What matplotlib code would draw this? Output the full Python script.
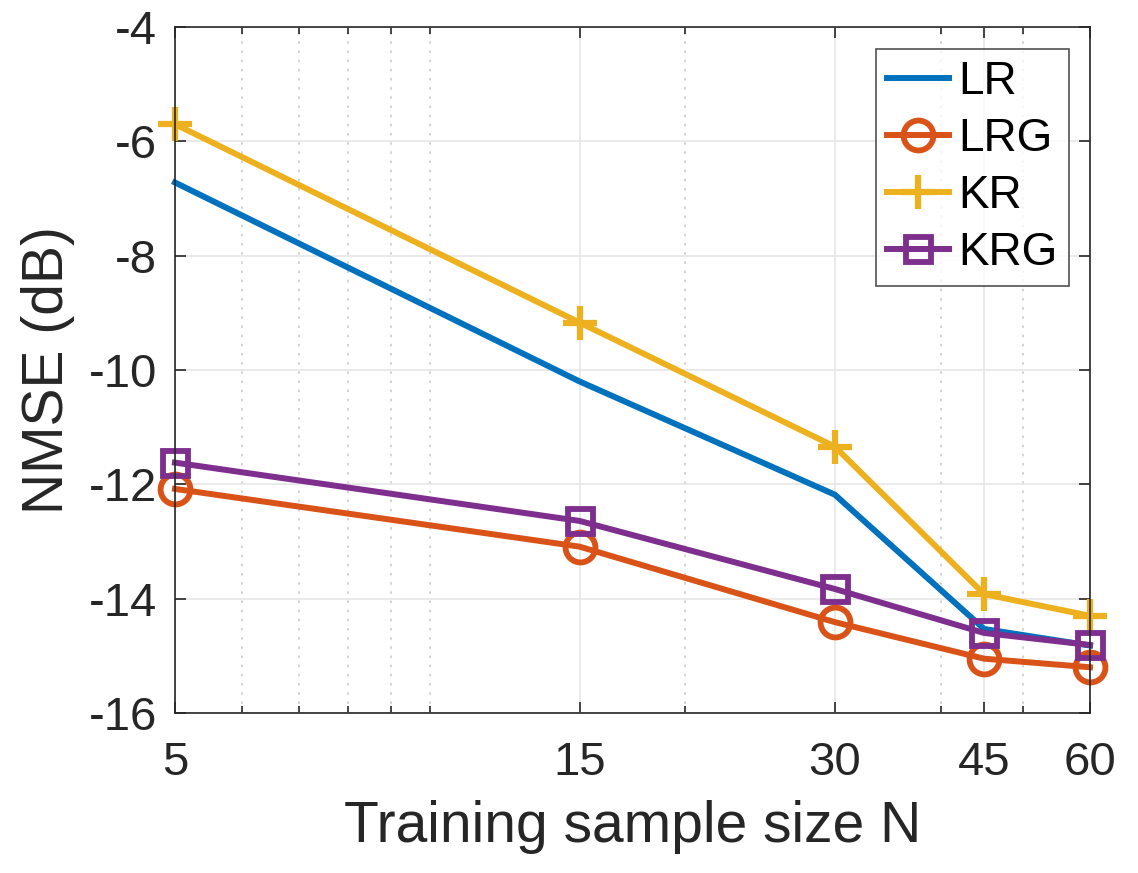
import numpy as np
import matplotlib
matplotlib.use("Agg")
import matplotlib.pyplot as plt
from matplotlib.ticker import FixedLocator, NullFormatter

# data
n_samples = [5, 15, 30, 45, 60]
lr = [-6.72, -10.20, -12.18, -14.53, -14.82]
lrg = [-12.08, -13.09, -14.41, -15.05, -15.20]
kr = [-5.70, -9.17, -11.34, -13.92, -14.30]
krg = [-11.62, -12.64, -13.83, -14.60, -14.81]

plt.rcParams['font.family'] = ['Liberation Sans', 'DejaVu Sans']
plt.rcParams['axes.unicode_minus'] = False

fig = plt.figure(figsize=(11.38, 8.73), dpi=100)
ax = fig.add_axes([175 / 1138, 1 - 713 / 873, 915 / 1138, 686 / 873])

lw = 4.3
mew = 4.2
ax.plot(n_samples, lr, '-', color='#0072BD', lw=lw, label='LR', clip_on=False)
ax.plot(n_samples, lrg, '-o', color='#D95319', lw=lw, ms=21.5, mew=mew,
        mfc='none', label='LRG', clip_on=False)
ax.plot(n_samples, kr, '-+', color='#EDB120', lw=lw, ms=24, mew=4.5,
        label='KR', clip_on=False)
ax.plot(n_samples, krg, '-s', color='#7E2F8E', lw=lw, ms=18, mew=mew,
        mfc='none', label='KRG', clip_on=False)

ax.set_xscale('log')
ax.set_xlim(5, 60)
ax.set_ylim(-16, -4)
ax.xaxis.set_major_locator(FixedLocator(n_samples))
ax.xaxis.set_minor_locator(FixedLocator([6, 7, 8, 9, 10, 20, 40, 50]))
ax.xaxis.set_minor_formatter(NullFormatter())
ax.set_xticklabels([str(v) for v in n_samples])
ax.set_yticks(np.arange(-16, -3, 2))

ax.grid(True, which='major', color='#e6e6e6', lw=1.2)
ax.grid(True, which='minor', axis='x', color='#cccccc', lw=1.2, ls=(0, (1.5, 4)))
ax.set_axisbelow(True)

ax.tick_params(which='both', direction='in', top=True, right=True,
               labelsize=34, colors='#262626', length=8, width=1.2)
ax.tick_params(axis='y', pad=13)
ax.tick_params(axis='x', pad=20)
ax.tick_params(which='minor', length=5)
for s in ax.spines.values():
    s.set_color('#262626')
    s.set_linewidth(1.2)

ax.set_xlabel('Training sample size N', fontsize=41, color='#262626', labelpad=11)
ax.set_ylabel('NMSE (dB)', fontsize=41, color='#262626', labelpad=10)

leg = ax.legend(loc='upper right', fontsize=33, frameon=True, fancybox=False,
                edgecolor='#262626', handlelength=1.35, handletextpad=0.2,
                borderpad=0.25, labelspacing=0.28, borderaxespad=0,
                bbox_to_anchor=(0.977, 0.968))
leg.get_frame().set_linewidth(1.2)

fig.savefig('out.png', dpi=100)
